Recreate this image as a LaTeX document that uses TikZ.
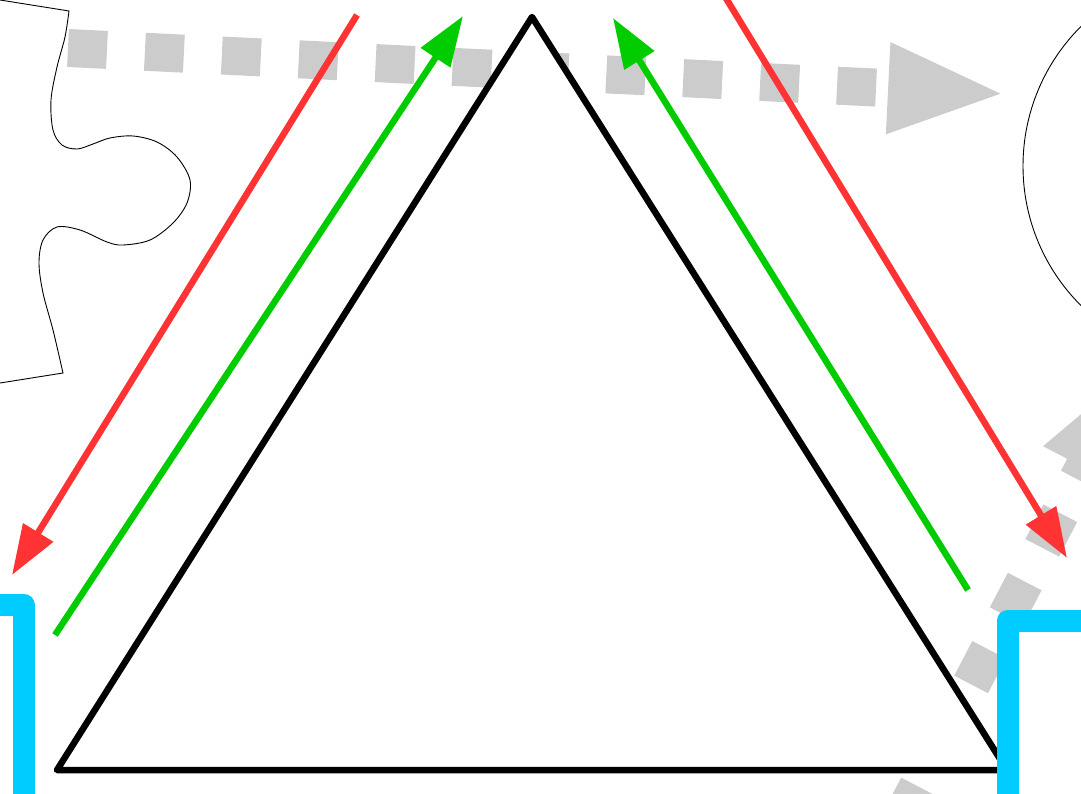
\documentclass[tikz,border=0pt]{standalone}
\usepackage{xcolor}
\usepackage{tikz}
\usetikzlibrary{arrows.meta, calc}
\definecolor{flowgray}{HTML}{CCCCCC}
\definecolor{pushred}{HTML}{FF3333}
\definecolor{pullgreen}{HTML}{00CC00}
\definecolor{framecyan}{HTML}{00CCFF}

\begin{document}
\begin{tikzpicture}[x=1pt, y=-1pt,
  outline/.style={draw=black, line width=0.9pt},
  flow/.style={draw=flowgray, line width=38pt, dash pattern=on 39pt off 38pt,
    -{Triangle[length=119pt, width=82pt]}},
  tri/.style={draw=black, fill=white, line width=6.5pt, line join=round},
  frame/.style={draw=framecyan, fill=white, line width=22pt, line join=round},
  push/.style={draw=pushred, line width=6.5pt, -{Triangle[length=50pt, width=34pt]}},
  pull/.style={draw=pullgreen, line width=6.5pt, -{Triangle[length=50pt, width=34pt]}}]
  \useasboundingbox (0,0) rectangle (1081,794);

  % puzzle piece and round shape at the sides
  \draw[outline] (0,0) -- (69,11) -- plot[smooth, tension=0.55] coordinates {
    (69,11) (65,37) (57,67) (51,100) (53,130) (62,145) (77,149) (93,144)
    (110,138) (133,136) (157,142) (177,157) (190,180) (187,203) (173,223)
    (150,240) (123,245) (107,242) (80,230) (57,227) (43,240) (39,263)
    (43,293) (53,330) (63,373)} -- (0,383);
  \draw[outline] (1220,166) circle[radius=197];

  % gray flows
  \coordinate (flowAstart) at (68,48);
  \coordinate (flowAend) at (1007,94);
  \coordinate (flowBstart) at (900,821);
  \coordinate (flowBend) at (1139,362);
  \draw[flow] (flowAstart) -- (flowAend);
  \draw[flow] (flowBstart) -- (flowBend);

  % triangle
  \coordinate (apexL) at (57,770);
  \coordinate (apexT) at (532,17);
  \coordinate (apexR) at (1007,770);
  \draw[tri] (apexL) -- (apexT) -- (apexR) -- cycle;

  % cyan frames
  \path[frame] (-60,605) rectangle (24,900);
  \path[frame] (1007.5,620.5) rectangle (1200,900);

  % arrows along the sides
  \coordinate (pushLstart) at (357,15);
  \coordinate (pushLend) at (12,575);
  \coordinate (pushRstart) at (724,-5);
  \coordinate (pushRend) at (1067,558);
  \coordinate (pullLstart) at (55,635);
  \coordinate (pullLend) at (463,16);
  \coordinate (pullRstart) at (968,590);
  \coordinate (pullRend) at (613,18);
  \draw[push] (pushLstart) -- (pushLend);
  \draw[push] (pushRstart) -- (pushRend);
  \draw[pull] (pullLstart) -- (pullLend);
  \draw[pull] (pullRstart) -- (pullRend);
\end{tikzpicture}
\end{document}
